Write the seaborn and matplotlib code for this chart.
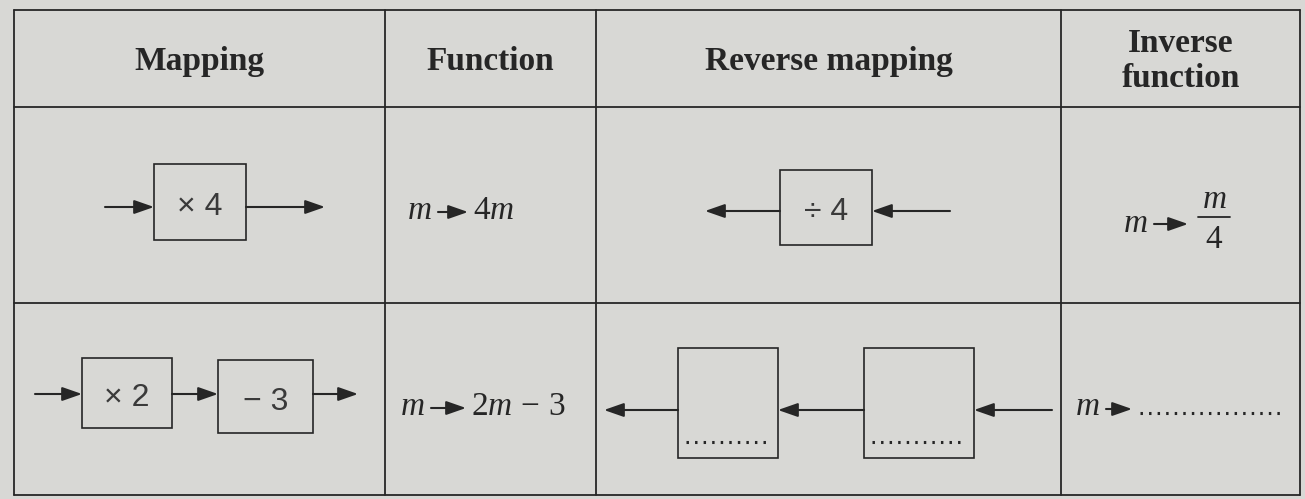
import matplotlib
matplotlib.use("Agg")
import matplotlib.pyplot as plt
from matplotlib.patches import Rectangle
import seaborn as sns

# table content
headers = ["Mapping", "Function", "Reverse mapping", "Inverse\nfunction"]
map_ops = [["× 4"], ["× 2", "− 3"]]
rev_ops = [["÷ 4"], ["", ""]]
func_rhs = [r"$4m$", r"$2m\,-\,3$"]
frac_parts = [r"$m$", r"$4$"]

sns.set_theme(style="white")
plt.rcParams["font.family"] = ["Liberation Serif", "DejaVu Sans"]
plt.rcParams["mathtext.fontset"] = "custom"
plt.rcParams["mathtext.rm"] = "Liberation Serif"
plt.rcParams["mathtext.it"] = "Liberation Serif:italic"
plt.rcParams["mathtext.bf"] = "Liberation Serif:bold"

paper = "#d8d8d5"
ink = "#262626"

fig = plt.figure(figsize=(13.05, 4.99), dpi=100, facecolor=paper)
ax = fig.add_axes([0, 0, 1, 1])
ax.set_facecolor(paper)
ax.set_xlim(0, 1305)
ax.set_ylim(499, 0)
ax.axis("off")

col_edges = [14, 385, 596, 1061, 1300]
row_edges = [10, 107, 303, 495]

# grid
for x in col_edges:
    ax.plot([x, x], [row_edges[0], row_edges[-1]], color=ink, lw=1.3)
for y in row_edges:
    ax.plot([col_edges[0], col_edges[-1]], [y, y], color=ink, lw=1.3)

# headers
for i, h in enumerate(headers):
    cx = (col_edges[i] + col_edges[i + 1]) / 2
    ax.text(cx, 61, h, ha="center", va="center", fontsize=24, fontweight="bold",
            color=ink, linespacing=1.2)


def arrow(x0, x1, y):
    ax.annotate("", xy=(x1, y), xytext=(x0, y),
                arrowprops=dict(arrowstyle="-|>,head_length=1.0,head_width=0.35",
                                color=ink, lw=1.5, shrinkA=0, shrinkB=0))


def dots(x0, x1, y):
    ax.plot([x0, x1], [y, y], color=ink, lw=2.2,
            linestyle=(0, (0.8, 2.0)), solid_capstyle="butt")


def box(x0, y0, w, h, label, dotted=False):
    ax.add_patch(Rectangle((x0, y0), w, h, fill=False, ec=ink, lw=1.2))
    if label:
        ax.text(x0 + w / 2, y0 + h / 2 + 13, label, ha="center", va="baseline",
                fontsize=23, family="Liberation Sans", color="#3a3a3a")
    if dotted:
        dots(x0 + 8, x0 + w - 8, y0 + h - 16)


def mapsto(x, y, rhs, alen=32):
    # "m ->" followed by rhs, y is baseline
    ax.text(x, y, r"$m$", ha="right", va="baseline", fontsize=24, color=ink)
    arrow(x + 6, x + 6 + alen, y - 7)
    ax.text(x + alen + 11, y, rhs, ha="left", va="baseline", fontsize=24, color=ink)


# row 1
box(154, 164, 92, 76, map_ops[0][0])
arrow(105, 154, 207)
arrow(246, 325, 207)
mapsto(432, 219, func_rhs[0], alen=30)
box(780, 170, 92, 75, rev_ops[0][0])
arrow(780, 705, 211)
arrow(950, 872, 211)
ax.text(1148, 232, r"$m$", ha="right", va="baseline", fontsize=24, color=ink)
arrow(1154, 1188, 224)
ax.text(1214, 208, frac_parts[0], ha="center", va="baseline", fontsize=24, color=ink)
ax.plot([1198, 1230], [217, 217], color=ink, lw=1.3)
ax.text(1214, 248, frac_parts[1], ha="center", va="baseline", fontsize=24, color=ink)

# row 2
box(82, 358, 90, 70, map_ops[1][0])
box(218, 360, 95, 73, map_ops[1][1])
arrow(35, 82, 394)
arrow(172, 218, 394)
arrow(313, 358, 394)
mapsto(425, 415, func_rhs[1], alen=35)
box(678, 348, 100, 110, rev_ops[1][0], dotted=True)
box(864, 348, 110, 110, rev_ops[1][1], dotted=True)
arrow(678, 604, 410)
arrow(864, 778, 410)
arrow(1052, 974, 410)
ax.text(1100, 415, r"$m$", ha="right", va="baseline", fontsize=24, color=ink)
arrow(1106, 1132, 409)
dots(1140, 1282, 413)

fig.savefig("out.png", dpi=100, facecolor=paper)
